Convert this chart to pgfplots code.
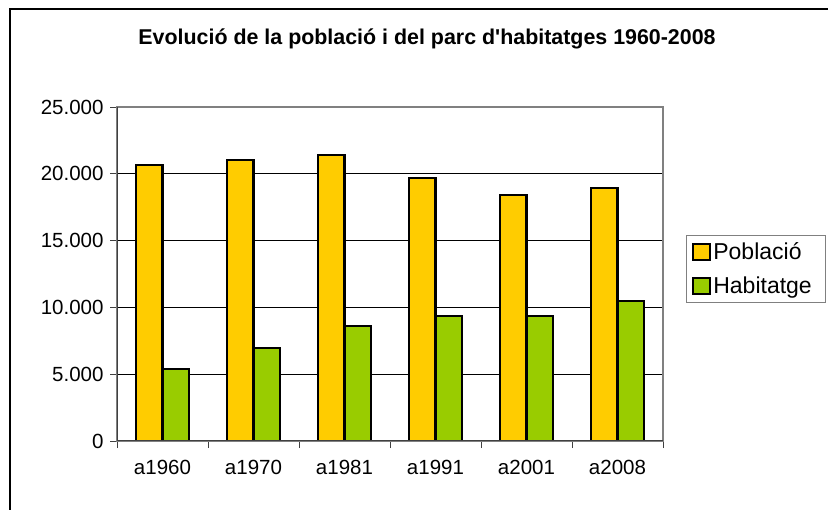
\documentclass[border=0pt]{standalone}
\usepackage{fontspec}
\setmainfont{Liberation Sans}
\usepackage{pgfplots}
\pgfplotsset{compat=1.18}
\definecolor{pob}{HTML}{FFCC00}
\definecolor{hab}{HTML}{99CC00}
\definecolor{axgray}{HTML}{808080}
\begin{document}
\begin{tikzpicture}
\begin{axis}[
  at={(117pt,-441pt)}, anchor=south west,
  scale only axis, width=546pt, height=334pt,
  xmin=-0.5, xmax=5.5, ymin=0, ymax=25000,
  ybar=0pt, bar width=26.5pt,
  xtick={-0.5,0.5,1.5,2.5,3.5,4.5,5.5},
  xticklabel=\empty,
  extra x ticks={0,1,2,3,4,5},
  extra x tick labels={a1960,a1970,a1981,a1991,a2001,a2008},
  extra x tick style={major tick length=0pt},
  ytick={0,5000,10000,15000,20000,25000},
  scaled y ticks=false,
  /pgf/number format/.cd, 1000 sep={.}, assume math mode=true,
  /pgfplots/.cd,
  tick align=outside, tick pos=left,
  major tick length=7pt,
  tick style={draw=black!75, line width=0.8pt},
  ymajorgrids, grid style={draw=black, line width=0.8pt},
  axis line style={draw=axgray, line width=1.6pt},
  tick label style={font=\fontsize{20.5}{24}\selectfont},
  xticklabel style={yshift=-16pt},
  yticklabel style={xshift=-3pt},
  legend style={at={(1.042,0.617)}, anchor=north west, draw=axgray, line width=0.8pt,
    font=\fontsize{23}{27}\selectfont, inner xsep=6pt, inner ysep=5pt, row sep=12pt, fill=white},
  legend cell align=left,
  legend image code/.code={\draw[#1, line width=2pt] (0pt,-8pt) rectangle (17pt,8pt);},
]
\addplot[fill=pob, draw=black, line width=2.2pt] coordinates {(0,20660) (1,21030) (2,21410) (3,19710) (4,18390) (5,18960)};
\addplot[fill=hab, draw=black, line width=2.2pt] coordinates {(0,5390) (1,6940) (2,8610) (3,9360) (4,9360) (5,10500)};
\legend{Població,Habitatge\hspace*{6pt}}
\draw[draw=black!75, line width=1.2pt] (rel axis cs:0,1) -- (rel axis cs:0,0) -- (rel axis cs:1,0);
\end{axis}
\node[font=\bfseries\fontsize{21.4}{25}\selectfont] at (427pt,-39pt) {Evolució de la població i del parc d\textquotesingle habitatges 1960-2008};
\pgfresetboundingbox
\useasboundingbox (0,0) rectangle (828pt,-510pt);
\draw[line width=2pt] (10pt,-510pt) -- (10pt,-9pt) -- (828pt,-9pt);
\end{tikzpicture}
\end{document}
